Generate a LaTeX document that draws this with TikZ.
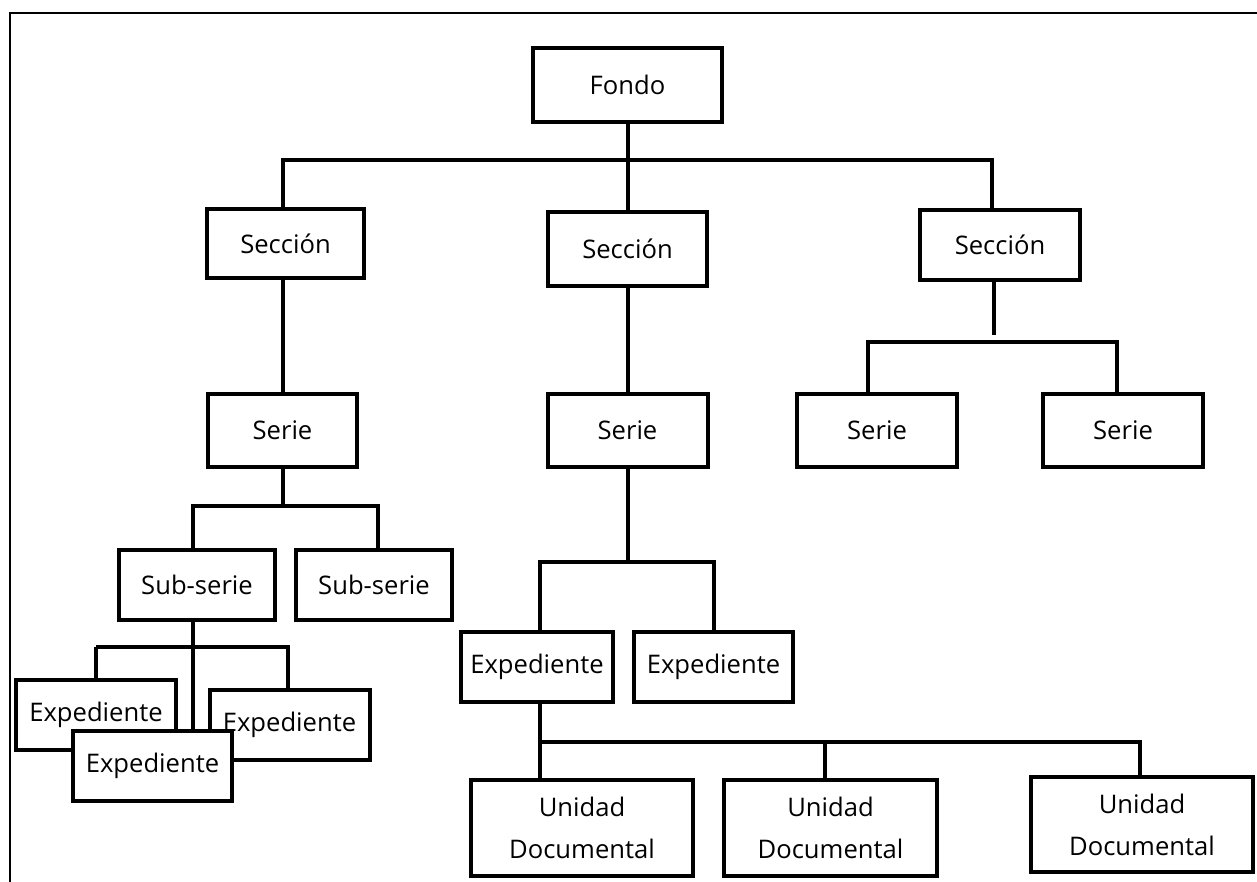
\documentclass[tikz,border=0pt]{standalone}
\usepackage{fontspec}
\setmainfont{Open Sans}
\usepackage{tikz}
\usetikzlibrary{positioning}

\begin{document}
\begin{tikzpicture}[x=0.5pt,y=-0.5pt]
\tikzstyle{block} = [rectangle, draw=black, line width=2pt, fill=white,
inner sep=0pt, minimum width=80pt, minimum height=35pt,
font=\fontsize{12.8}{21}\selectfont, text centered]
\tikzstyle{unit} = [block, align=center, minimum width=111pt, minimum height=48pt]
\tikzstyle{line} = [draw, line width=2pt]
\useasboundingbox (0,0) rectangle (1257,882);
\draw[line width=1.4pt] (1257,13) -- (10,13) -- (10,882);
% level 1
\node [block, minimum width=94.5pt, minimum height=37pt] (fondo) at (627.5,85) {Fondo};
% level 2
\node [block, minimum width=78.5pt, minimum height=34.5pt] (secL) at (285.5,243.5) {Sección};
\node [block, minimum width=79.5pt, minimum height=37pt] (secM) at (627.5,249) {Sección};
\node [block] (secR) at (1000,245) {Sección};
% level 3
\node [block, minimum width=74.5pt, minimum height=36.5pt] (serL) at (282.5,430.5) {Serie};
\node [block, minimum height=36.5pt] (serM) at (627.5,430.5) {Serie};
\node [block, minimum height=36.5pt] (serR1) at (877,430.5) {Serie};
\node [block, minimum height=36.5pt] (serR2) at (1123,430.5) {Serie};
% level 4
\node [block, minimum width=78pt] (sub1) at (197,585) {Sub-serie};
\node [block, minimum width=78pt] (sub2) at (374,585) {Sub-serie};
\node [block, minimum width=76pt] (expM1) at (537,667) {Expediente};
\node [block, minimum width=79.5pt] (expM2) at (713.5,667) {Expediente};
% level 5
\node [block] (expA) at (96,715) {Expediente};
\node [block] (expC) at (289.5,725) {Expediente};
\node [block, minimum width=79.5pt] (expB) at (152.5,766) {Expediente};
\node [unit] (uni1) at (582,828) {Unidad\\Documental};
\node [unit, minimum width=106.5pt] (uni2) at (830.5,828) {Unidad\\Documental};
\node [unit, minimum height=47.5pt] (uni3) at (1142,824.5) {Unidad\\Documental};

\tikzstyle{every path}=[line]
\coordinate (b1) at (627,160);
\path (fondo.south) -- (secM.north);
\path ([xshift=-1.5pt]secL.north) |- (b1) -| ([xshift=-4pt]secR.north);
\path ([xshift=-1.5pt]secL.south) -- ([xshift=-1.5pt]secL.south |- serL.north);
\path (secM.south) -- (secM.south |- serM.north);
\coordinate (b2) at (994,342);
\path ([xshift=-3pt]secR.south) -- ++(0,53);
\path ([xshift=-4.5pt]serR1.north) |- (b2) -| ([xshift=-3pt]serR2.north);
\path (serL.south) -- ++(0,37) coordinate (b3);
\path ([xshift=-2pt]sub1.north) |- (b3) -| ([xshift=2pt]sub2.north);
\path ([xshift=-2pt]sub1.south) -- ([xshift=-2pt]sub1.south |- expB.north);
\path (expA.north) -- ++(0,-31) coordinate (b4);
\path (b4) -| ([xshift=-1pt]expC.north);
\path (serM.south) -- ++(0,93) coordinate (b5);
\path ([xshift=1.5pt]expM1.north) |- (b5) -| (expM2.north);
\path ([xshift=1.5pt]expM1.south) -- ([xshift=1.5pt]expM1.south |- uni1.north);
\path ([xshift=1.5pt]expM1.south) -- ++(0,38) coordinate (b6);
\path (b6) -| ([xshift=-3pt]uni2.north);
\path (b6) -| ([xshift=-1pt]uni3.north);
\end{tikzpicture}
\end{document}
